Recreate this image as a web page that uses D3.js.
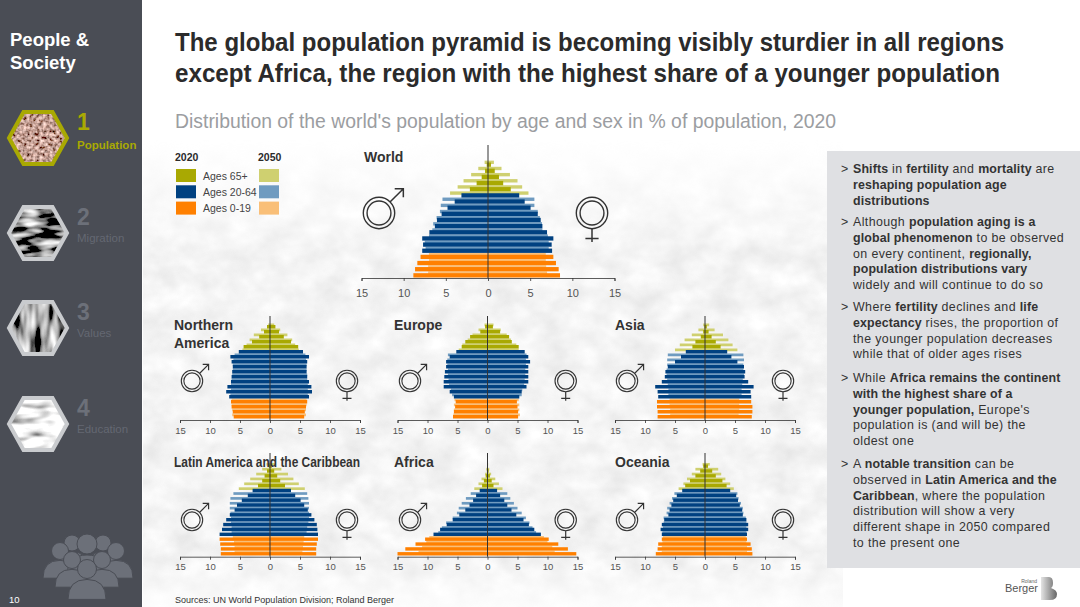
<!DOCTYPE html>
<html>
<head>
<meta charset="utf-8">
<script src="https://cdn.jsdelivr.net/npm/d3@7"></script>
<style>
  html, body { margin: 0; padding: 0; background: #fff; }
  svg { display: block; font-family: "Liberation Sans", Arial, sans-serif; }
</style>
</head>
<body>
<svg id="chart" width="1080" height="607"></svg>
<script>
// age bands, bottom of the pyramid first
const ageBands = ["0-4","5-9","10-14","15-19","20-24","25-29","30-34","35-39","40-44","45-49","50-54","55-59","60-64","65-69","70-74","75-79","80-84","85-89","90-94"];
const tickLabels = [-15, -10, -5, 0, 5, 10, 15];

const worldMale2020 = [8.85,8.65,8.38,8.0,7.8,7.7,7.8,6.95,6.3,6.05,5.5,4.8,3.95,3.15,2.15,1.35,0.75,0.35,0.15];
const worldFemale2020 = [8.54,8.38,8.06,7.75,7.6,7.55,7.75,7.0,6.45,6.25,5.9,5.05,4.35,3.7,2.7,1.8,1.3,0.8,0.35];
const worldMale2050 = [7.1,7.1,7.0,7.0,7.4,7.5,7.0,6.6,6.5,6.1,5.7,5.6,5.4,4.5,3.6,2.9,2.0,1.15,0.4];
const worldFemale2050 = [7.0,6.9,6.85,6.85,7.2,7.2,7.1,6.45,6.4,6.15,5.9,5.5,5.5,4.8,4.05,3.5,2.6,1.6,0.7];

const naMale2020 = [6.05,6.2,6.4,6.5,6.8,7.3,7.1,6.5,6.4,6.3,6.2,6.4,6.6,5.2,4.4,3.0,1.8,1.0,0.5];
const naFemale2020 = [5.7,5.8,6.0,6.2,6.5,7.0,6.9,6.5,6.2,6.1,6.1,6.2,6.5,5.5,4.7,3.5,2.3,1.5,0.9];
const naMale2050 = [6.3,6.3,6.4,6.4,6.6,6.5,6.5,6.4,6.3,6.2,6.2,6.1,5.9,4.6,3.9,3.4,2.7,1.5,0.3];
const naFemale2050 = [6.0,6.0,6.1,6.1,6.3,6.3,6.3,6.2,6.2,6.1,6.1,6.0,5.9,4.8,4.2,3.7,2.9,1.7,0.7];

const europeMale2020 = [5.75,5.6,5.4,5.3,5.6,6.3,7.3,7.3,7.2,7.1,6.9,6.9,6.3,5.2,4.3,3.7,2.9,1.2,0.4];
const europeFemale2020 = [5.1,5.1,5.0,4.9,5.3,5.7,6.5,6.8,6.8,6.8,6.8,7.1,6.8,6.2,5.2,4.05,3.6,2.1,0.9];
const europeMale2050 = [5.7,5.6,5.6,5.5,5.9,6.1,6.4,6.5,6.6,6.6,6.7,6.7,6.6,4.8,4.2,3.3,2.5,1.5,0.5];
const europeFemale2050 = [5.4,5.3,5.3,5.2,5.7,5.8,6.1,6.2,6.3,6.3,6.4,6.4,6.5,5.2,4.8,3.9,3.2,2.2,1.0];

const asiaMale2020 = [7.9,7.9,8.0,8.0,7.8,7.9,8.3,7.2,6.7,6.6,6.2,5.0,4.0,3.2,2.1,1.6,0.7,0.3,0.1];
const asiaFemale2020 = [7.8,7.9,7.9,7.7,7.7,7.6,8.1,7.2,6.6,6.7,6.5,5.4,4.4,3.7,2.6,1.8,1.1,0.6,0.3];
const asiaMale2050 = [5.8,5.8,5.9,5.9,6.1,6.1,6.2,6.3,6.4,6.4,6.3,6.3,6.2,5.0,4.2,3.4,2.2,1.1,0.3];
const asiaFemale2050 = [5.6,5.7,5.7,5.7,6.1,6.1,6.2,6.3,6.5,6.4,6.4,6.5,6.4,5.4,4.6,3.9,3.0,1.6,0.7];

const latamMale2020 = [8.2,8.2,8.3,8.4,8.4,8.0,7.8,7.3,6.7,5.9,5.5,4.7,3.7,2.9,2.0,1.3,0.9,0.5,0.2];
const latamFemale2020 = [7.7,7.7,7.8,8.0,8.0,7.9,7.8,7.4,6.9,6.3,5.7,5.1,4.2,3.5,2.5,1.7,1.2,0.7,0.3];
const latamMale2050 = [5.9,5.9,6.0,6.2,6.4,6.4,6.5,6.5,6.6,6.7,6.7,6.6,6.1,5.2,4.3,3.3,2.3,1.3,0.6];
const latamFemale2050 = [5.4,5.5,5.6,5.7,6.1,6.2,6.4,6.5,6.5,6.5,6.5,6.4,6.2,5.8,4.8,3.9,3.0,1.9,0.9];

const africaMale2020 = [15,13.7,12,10.4,9,7.9,6.8,5.8,4.7,3.7,3,2.4,1.9,1.3,0.9,0.6,0.3,0.1,0.05];
const africaFemale2020 = [14.8,13.4,11.8,10.2,8.9,7.8,6.9,6,4.8,4,3.3,2.8,2.1,1.6,1,0.7,0.4,0.2,0.05];
const africaMale2050 = [11.5,10.9,10.2,9.7,8.2,7.6,6.9,5.8,5.1,4.8,4.3,3.6,2.8,2.2,1.5,1,0.4,0.2,0.05];
const africaFemale2050 = [11.2,10.8,10,9.4,8.1,7.5,7,6.4,5.7,5,4.4,3.8,3.3,2.5,1.9,1.3,0.6,0.3,0.1];

const oceaniaMale2020 = [8.2,7.9,7.8,7.2,7.2,7.4,7.2,6.8,6.1,5.9,5.6,5.3,4.7,3.8,3.3,2.5,1.6,0.8,0.3];
const oceaniaFemale2020 = [7.9,7.8,7.6,7,7,7.2,7.2,6.9,6.3,6.2,5.8,5.5,5.2,4.2,3.6,2.9,1.8,1.2,0.5];
const oceaniaMale2050 = [7.2,7.2,7.1,7.0,7.1,7.0,6.9,6.9,6.4,6.3,5.9,5.5,5.1,4.4,3.6,3,2.2,1.6,0.4];
const oceaniaFemale2050 = [7,7,6.9,6.8,6.9,6.9,6.9,6.8,6.4,6.3,6,5.6,5.4,4.8,4.2,3.4,2.7,2.2,0.8];

// how many bands of each colour, per year (the 2020 blue runs one band higher)
const groupCounts2020 = [4, 10, 5];
const groupCounts2050 = [4, 9, 6];
const colors2020 = ["#ff8000", "#004181", "#a9a902"];
const colors2050 = ["#f9bf78", "#6f9bc0", "#cfd070"];

const bulletLines = [
  ["**Shifts** in **fertility** and **mortality** are", "**reshaping population age**", "**distributions**"],
  ["Although **population aging is a**", "**global phenomenon** to be observed", "on every continent, **regionally,**", "**population distributions vary**", "widely and will continue to do so"],
  ["Where **fertility** declines and **life**", "**expectancy** rises, the proportion of", "the younger population decreases", "while that of older ages rises"],
  ["While **Africa remains the continent**", "**with the highest share of a**", "**younger population,** Europe's", "population is (and will be) the", "oldest one"],
  ["A **notable transition** can be", "observed in **Latin America and the**", "**Caribbean**, where the population", "distribution will show a very", "different shape in 2050 compared", "to the present one"]
];
const bulletTops = [173, 226, 311, 382, 468];

const svg = d3.select("#chart");
const defs = svg.append("defs");

// faint crowd photo behind the charts
const crowd = defs.append("filter").attr("id", "crowd").attr("x", 0).attr("y", 0).attr("width", 1).attr("height", 1);
crowd.append("feTurbulence").attr("type", "fractalNoise").attr("baseFrequency", "0.035 0.045").attr("numOctaves", 3).attr("seed", 7);
crowd.append("feColorMatrix").attr("type", "matrix").attr("values", "0 0 0 0 0.76  0 0 0 0 0.76  0 0 0 0 0.76  1.3 0 0 0 -0.2");
const fade = defs.append("linearGradient").attr("id", "fade").attr("x1", 0).attr("x2", 0).attr("y1", 0).attr("y2", 1);
[[0, 0], [0.08, 0.25], [0.25, 0.85], [0.9, 0.85], [1, 0.2]].forEach(s => fade.append("stop").attr("offset", s[0]).attr("stop-color", "#fff").attr("stop-opacity", s[1]));
defs.append("mask").attr("id", "fadeMask").append("rect").attr("x", 143).attr("y", 140).attr("width", 700).attr("height", 467).attr("fill", "url(#fade)");

svg.append("rect").attr("width", 1080).attr("height", 607).attr("fill", "#fff");
svg.append("g").attr("mask", "url(#fadeMask)").append("rect")
  .attr("x", 143).attr("y", 140).attr("width", 700).attr("height", 467)
  .attr("filter", "url(#crowd)");

drawSidebar();

// headings
svg.append("text").attr("x", 175).attr("y", 51).attr("font-size", 26).attr("font-weight", "bold").attr("fill", "#2b2b2b")
  .attr("textLength", 829).attr("lengthAdjust", "spacingAndGlyphs").text("The global population pyramid is becoming visibly sturdier in all regions");
svg.append("text").attr("x", 175).attr("y", 82).attr("font-size", 26).attr("font-weight", "bold").attr("fill", "#2b2b2b")
  .attr("textLength", 825).attr("lengthAdjust", "spacingAndGlyphs").text("except Africa, the region with the highest share of a younger population");
svg.append("text").attr("x", 175).attr("y", 128).attr("font-size", 20).attr("fill", "#9b9da1")
  .attr("textLength", 661).attr("lengthAdjust", "spacingAndGlyphs").text("Distribution of the world's population by age and sex in % of population, 2020");

// legend
svg.append("text").attr("x", 175).attr("y", 161).attr("font-size", 10.5).attr("font-weight", "bold").attr("fill", "#2b2b2b").text("2020");
svg.append("text").attr("x", 258).attr("y", 161).attr("font-size", 10.5).attr("font-weight", "bold").attr("fill", "#2b2b2b").text("2050");
["Ages 65+", "Ages 20-64", "Ages 0-19"].forEach((label, i) => {
  const top = 169 + i * 16.3;
  svg.append("rect").attr("x", 176).attr("y", top).attr("width", 20).attr("height", 13).attr("fill", colors2020[2 - i]);
  svg.append("rect").attr("x", 259).attr("y", top).attr("width", 20).attr("height", 13).attr("fill", colors2050[2 - i]);
  svg.append("text").attr("x", 203).attr("y", top + 10.5).attr("font-size", 10.5).attr("fill", "#444").text(label);
});

// the seven pyramids
const panels = [
  { title: ["World"], titleX: 364, titleY: 162, center: 488, half: 126.5, axisY: 278, step: 6.15, barsBottom: 277.5, lineTop: 145, maleX: 379, femaleX: 592, iconY: 213, iconR: 15.7, font: 11, pad: 8,
    m20: worldMale2020, f20: worldFemale2020, m50: worldMale2050, f50: worldFemale2050 },
  { title: ["Northern", "America"], titleX: 174, titleY: 330, center: 270, half: 90, axisY: 420, step: 5, barsBottom: 418.5, lineTop: 316, maleX: 192, femaleX: 347, iconY: 381, iconR: 10.7, font: 9.5, pad: 4,
    m20: naMale2020, f20: naFemale2020, m50: naMale2050, f50: naFemale2050 },
  { title: ["Europe"], titleX: 394, titleY: 330, center: 487.5, half: 90, axisY: 420, step: 5, barsBottom: 418.5, lineTop: 316, maleX: 410, femaleX: 565.7, iconY: 381, iconR: 10.7, font: 9.5, pad: 4,
    m20: europeMale2020, f20: europeFemale2020, m50: europeMale2050, f50: europeFemale2050 },
  { title: ["Asia"], titleX: 615, titleY: 330, center: 705, half: 90, axisY: 420, step: 5, barsBottom: 418.5, lineTop: 316, maleX: 627, femaleX: 783, iconY: 381, iconR: 10.7, font: 9.5, pad: 4,
    m20: asiaMale2020, f20: asiaFemale2020, m50: asiaMale2050, f50: asiaFemale2050 },
  { title: ["Latin America and the Caribbean"], titleX: 174, titleY: 467, center: 270, half: 90, axisY: 556.7, step: 4.87, barsBottom: 555.5, lineTop: 453, maleX: 192, femaleX: 347, iconY: 520, iconR: 10.7, font: 9.5, pad: 4,
    m20: latamMale2020, f20: latamFemale2020, m50: latamMale2050, f50: latamFemale2050 },
  { title: ["Africa"], titleX: 394, titleY: 467, center: 487.5, half: 90, axisY: 556.7, step: 4.87, barsBottom: 555.5, lineTop: 453, maleX: 410, femaleX: 565.7, iconY: 520, iconR: 10.7, font: 9.5, pad: 4,
    m20: africaMale2020, f20: africaFemale2020, m50: africaMale2050, f50: africaFemale2050 },
  { title: ["Oceania"], titleX: 615, titleY: 467, center: 705, half: 90, axisY: 556.7, step: 4.87, barsBottom: 555.5, lineTop: 453, maleX: 627, femaleX: 783, iconY: 520, iconR: 10.7, font: 9.5, pad: 4,
    m20: oceaniaMale2020, f20: oceaniaFemale2020, m50: oceaniaMale2050, f50: oceaniaFemale2050 }
];
panels.forEach(drawPyramid);

function groupColor(i, counts, colors) {
  if (i < counts[0]) return colors[0];
  if (i < counts[0] + counts[1]) return colors[1];
  return colors[2];
}

function drawPyramid(p) {
  const x = d3.scaleLinear().domain([-15, 15]).range([p.center - p.half, p.center + p.half]);
  const y = d3.scaleBand().domain(ageBands).range([p.barsBottom, p.barsBottom - p.step * ageBands.length]);
  const g = svg.append("g");

  // 2050 sits in the upper half of a band, 2020 in the lower part and on top of it
  const series = [
    { vals: p.m50, sign: -1, year: 2050 }, { vals: p.f50, sign: 1, year: 2050 },
    { vals: p.m20, sign: -1, year: 2020 }, { vals: p.f20, sign: 1, year: 2020 }
  ];
  series.forEach(s => {
    const h = s.year === 2020 ? y.bandwidth() * 0.7 : y.bandwidth() * 0.55;
    g.append("g").selectAll("rect").data(s.vals).join("rect")
      .attr("x", d => s.sign < 0 ? x(-d) : x(0))
      .attr("width", d => x(d) - x(0))
      .attr("y", (d, i) => s.year === 2020 ? y(ageBands[i]) + y.bandwidth() - h : y(ageBands[i]))
      .attr("height", h)
      .attr("fill", (d, i) => s.year === 2020 ? groupColor(i, groupCounts2020, colors2020) : groupColor(i, groupCounts2050, colors2050));
  });

  const axis = g.append("g").attr("transform", `translate(0,${p.axisY})`)
    .call(d3.axisBottom(x).tickValues(tickLabels).tickFormat(d => Math.abs(d)).tickSize(3).tickPadding(p.pad));
  axis.selectAll("path, line").attr("stroke", "#333").attr("stroke-width", 0.8);
  axis.selectAll("text").attr("font-family", null).attr("font-size", p.font).attr("fill", "#555");

  g.append("line").attr("x1", x(0)).attr("x2", x(0)).attr("y1", p.lineTop).attr("y2", p.axisY).attr("stroke", "#333").attr("stroke-width", 1);

  p.title.forEach((t, i) => {
    const label = svg.append("text").attr("x", p.titleX).attr("y", p.titleY + i * 18).attr("font-size", 14).attr("font-weight", "bold").attr("fill", "#333").text(t);
    if (t.length > 20) label.attr("textLength", 186).attr("lengthAdjust", "spacingAndGlyphs");
  });

  drawMale(g, p.maleX, p.iconY, p.iconR);
  drawFemale(g, p.femaleX, p.iconY, p.iconR);
}

function rings(g, cx, cy, r) {
  g.append("circle").attr("cx", cx).attr("cy", cy).attr("r", r).attr("fill", "none").attr("stroke", "#333").attr("stroke-width", r > 12 ? 1.4 : 1.1);
  g.append("circle").attr("cx", cx).attr("cy", cy).attr("r", r * 0.76).attr("fill", "none").attr("stroke", "#333").attr("stroke-width", r > 12 ? 1.4 : 1.1);
}

function drawMale(g, cx, cy, r) {
  rings(g, cx, cy, r);
  const sx = cx + r * 0.7, sy = cy - r * 0.7, ex = cx + r * 1.55, ey = cy - r * 1.55, a = r * 0.55;
  g.append("path").attr("d", `M${sx},${sy}L${ex},${ey}M${ex - a},${ey}H${ex}V${ey + a}`).attr("fill", "none").attr("stroke", "#333").attr("stroke-width", r > 12 ? 1.5 : 1.2);
}

function drawFemale(g, cx, cy, r) {
  rings(g, cx, cy, r);
  g.append("path").attr("d", `M${cx},${cy + r}V${cy + r * 1.85}M${cx - r * 0.42},${cy + r * 1.62}H${cx + r * 0.42}`).attr("fill", "none").attr("stroke", "#333").attr("stroke-width", r > 12 ? 1.5 : 1.2);
}

// text box on the right
svg.append("rect").attr("x", 827).attr("y", 151).attr("width", 253).attr("height", 417).attr("fill", "#dfe0e3");
bulletLines.forEach((lines, b) => {
  svg.append("text").attr("x", 841).attr("y", bulletTops[b]).attr("font-size", 12.4).attr("fill", "#333").text(">");
  lines.forEach((line, l) => {
    const t = svg.append("text").attr("x", 853).attr("y", bulletTops[b] + l * 15.8).attr("font-size", 12.4).attr("fill", "#333");
    line.split("**").forEach((part, i) => {
      if (part) t.append("tspan").attr("font-weight", i % 2 ? "bold" : "normal").attr("letter-spacing", i % 2 ? 0.12 : 0.4).text(part);
    });
  });
});

// footer
svg.append("text").attr("x", 175).attr("y", 603).attr("font-size", 9).attr("fill", "#333").text("Sources: UN World Population Division; Roland Berger");
svg.append("text").attr("x", 1037).attr("y", 583).attr("font-size", 5).attr("text-anchor", "end").attr("fill", "#666").text("Roland");
svg.append("text").attr("x", 1038).attr("y", 592).attr("font-size", 11).attr("text-anchor", "end").attr("fill", "#555").text("Berger");
const logo = defs.append("linearGradient").attr("id", "logo");
logo.append("stop").attr("offset", 0).attr("stop-color", "#e4e4e4");
logo.append("stop").attr("offset", 1).attr("stop-color", "#666");
svg.append("path").attr("d", "M1041,577H1049Q1053,577 1053,583Q1053,587 1051,588Q1057,590 1057,594Q1057,600 1050,600H1041Z").attr("fill", "url(#logo)");

function drawSidebar() {
  const side = svg.append("g");
  side.append("rect").attr("width", 142).attr("height", 607).attr("fill", "#4a4d55");
  side.append("text").attr("x", 10).attr("y", 46).attr("font-size", 18.5).attr("font-weight", "bold").attr("fill", "#fff").text("People &");
  side.append("text").attr("x", 10).attr("y", 69).attr("font-size", 18.5).attr("font-weight", "bold").attr("fill", "#fff").text("Society");

  const noise = (id, seed, freq, mat) => {
    const f = defs.append("filter").attr("id", id).attr("x", 0).attr("y", 0).attr("width", 1).attr("height", 1);
    f.append("feTurbulence").attr("type", "fractalNoise").attr("baseFrequency", freq).attr("numOctaves", 2).attr("seed", seed);
    f.append("feColorMatrix").attr("type", "matrix").attr("values", mat);
  };
  noise("photo1", 3, 0.3, "1.6 0.4 0 0 -0.45  1.2 0.4 0 0 -0.45  1.1 0.4 0 0 -0.45  0 0 0 0 1");
  noise("photo2", 11, "0.05 0.15", "2.4 0 0 0 -0.95  2.4 0 0 0 -0.95  2.4 0 0 0 -0.95  0 0 0 0 1");
  noise("photo3", 21, "0.12 0.03", "2.4 0 0 0 -0.8  2.4 0 0 0 -0.8  2.4 0 0 0 -0.8  0 0 0 0 1");
  noise("photo4", 31, "0.04 0.12", "2.4 0 0 0 -0.3  2.4 0 0 0 -0.3  2.4 0 0 0 -0.3  0 0 0 0 1");

  const items = [
    { n: "1", label: "Population", cy: 138, on: true, photo: "photo1" },
    { n: "2", label: "Migration", cy: 233, on: false, photo: "photo2" },
    { n: "3", label: "Values", cy: 328, on: false, photo: "photo3" },
    { n: "4", label: "Education", cy: 424, on: false, photo: "photo4" }
  ];
  const hex = (cx, cy, w, h) => `M${cx - w},${cy}L${cx - w / 2},${cy - h}H${cx + w / 2}L${cx + w},${cy}L${cx + w / 2},${cy + h}H${cx - w / 2}Z`;
  items.forEach((it, i) => {
    defs.append("clipPath").attr("id", "hex" + i).append("path").attr("d", hex(38, it.cy, 29, 26));
    side.append("g").attr("clip-path", `url(#hex${i})`).append("rect")
      .attr("x", 5).attr("y", it.cy - 30).attr("width", 66).attr("height", 60)
      .attr("filter", `url(#${it.photo})`);
    side.append("path").attr("d", hex(38, it.cy, 29, 26)).attr("fill", "none")
      .attr("stroke", it.on ? "#a9a902" : "#c9cbce").attr("stroke-width", 4);
    const col = it.on ? "#a9a902" : "#646872";
    side.append("text").attr("x", 77).attr("y", it.cy - 8).attr("font-size", 23).attr("font-weight", "bold").attr("fill", it.on ? col : "#6c7079").text(it.n);
    side.append("text").attr("x", 77).attr("y", it.cy + (it.on ? 11 : 9)).attr("font-size", 11.5).attr("font-weight", it.on ? "bold" : "normal").attr("fill", col).text(it.label);
  });

  // people icon, back row first
  const heads = [[72, 543, 8], [103, 543, 8], [60, 551, 8.5], [87, 544, 10], [116, 551, 8.5], [72, 560, 8.5], [102, 560, 8.5], [87, 569, 9.5]];
  heads.forEach(h => {
    side.append("path").attr("d", `M${h[0] - h[2] * 2},${h[1] + h[2] * 3.2}Q${h[0] - h[2] * 2},${h[1] + h[2] * 1.1} ${h[0]},${h[1] + h[2] * 1.1}Q${h[0] + h[2] * 2},${h[1] + h[2] * 1.1} ${h[0] + h[2] * 2},${h[1] + h[2] * 3.2}Z`)
      .attr("fill", "#6c7079").attr("stroke", "#4a4d55").attr("stroke-width", 1);
    side.append("circle").attr("cx", h[0]).attr("cy", h[1]).attr("r", h[2]).attr("fill", "#6c7079").attr("stroke", "#4a4d55").attr("stroke-width", 1);
  });
  side.append("rect").attr("x", 40).attr("y", 601).attr("width", 100).attr("height", 6).attr("fill", "#4a4d55");
  side.append("text").attr("x", 9).attr("y", 603).attr("font-size", 9.5).attr("fill", "#fff").text("10");
}
</script>
</body>
</html>
